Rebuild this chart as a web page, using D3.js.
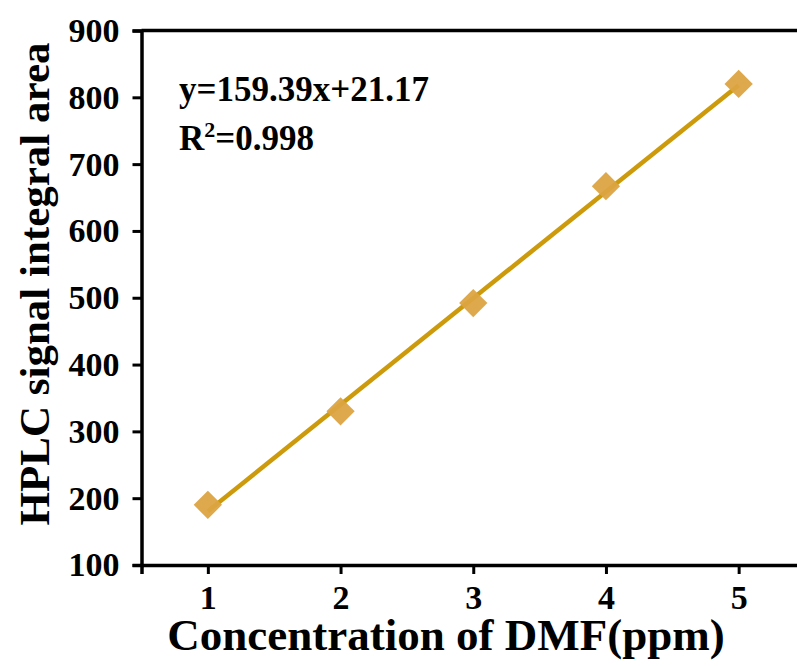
<!DOCTYPE html>
<html>
<head>
<meta charset="utf-8">
<script src="https://cdn.jsdelivr.net/npm/d3@7"></script>
<style>
  body { margin: 0; background: #fff; }
  svg { display: block; }
  text { font-family: "Liberation Serif", "Times New Roman", serif; font-weight: bold; fill: #000; }
</style>
</head>
<body>
<div id="chart"></div>
<script>
// Données
var concentrations = [1, 2, 3, 4, 5];
var aires = [190, 330, 492, 667, 820];
var pente = 159.39, ordonnee = 21.17;
var xTicks = [1, 2, 3, 4, 5];
var yTicks = [100, 200, 300, 400, 500, 600, 700, 800, 900];

var width = 797, height = 666;
var margin = { top: 30.5, right: -8, bottom: 101, left: 141.5 };

var svg = d3.select("#chart").append("svg")
    .attr("width", width)
    .attr("height", height);

var x = d3.scaleLinear()
    .domain([0.5, 5.5])
    .range([margin.left, width - margin.right]);
var y = d3.scaleLinear()
    .domain([100, 900])
    .range([height - margin.bottom, margin.top]);

// droite de régression
var fit = d3.line()
    .x(function (d) { return x(d); })
    .y(function (d) { return y(pente * d + ordonnee); });

svg.append("path")
    .datum([concentrations[0], concentrations[concentrations.length - 1]])
    .attr("d", fit)
    .attr("fill", "none")
    .attr("stroke", "#CC9A0A")
    .attr("stroke-width", 4.5);

// points en losange
var losange = d3.symbol().type(d3.symbolSquare).size(400);
svg.selectAll(".pt")
    .data(concentrations)
    .enter().append("path")
    .attr("class", "pt")
    .attr("d", losange)
    .attr("transform", function (d, i) { return "translate(" + x(d) + "," + y(aires[i]) + ") rotate(45)"; })
    .attr("fill", "#DCA442")
    .attr("fill-opacity", 0.95);

// axes
var xAxis = svg.append("g")
    .attr("transform", "translate(0," + y(100) + ")")
    .call(d3.axisBottom(x).tickValues(xTicks).tickSize(9).tickPadding(11).tickFormat(d3.format("d")));
var yAxis = svg.append("g")
    .attr("transform", "translate(" + x(0.5) + ",0)")
    .call(d3.axisLeft(y).tickValues(yTicks).tickSize(9).tickPadding(13));

[xAxis, yAxis].forEach(function (g) {
    g.attr("font-size", null).attr("font-family", null);
    g.select(".domain").attr("stroke", "#000").attr("stroke-width", 3.5);
    g.selectAll(".tick line").attr("stroke", "#000").attr("stroke-width", 3);
    g.selectAll(".tick text").style("font-size", "34px");
});

// cadre du haut
svg.append("line")
    .attr("x1", x(0.5)).attr("x2", x(5.5))
    .attr("y1", y(900)).attr("y2", y(900))
    .attr("stroke", "#000").attr("stroke-width", 3.5);
svg.append("line")
    .attr("x1", x(5.5)).attr("x2", x(5.5))
    .attr("y1", y(900)).attr("y2", y(100))
    .attr("stroke", "#000").attr("stroke-width", 3.5);

// titres des axes
svg.append("text")
    .attr("x", 446)
    .attr("y", 650)
    .attr("text-anchor", "middle")
    .style("font-size", "45px")
    .text("Concentration of DMF(ppm)");

svg.append("text")
    .attr("transform", "translate(49," + 284 + ") rotate(-90)")
    .attr("text-anchor", "middle")
    .style("font-size", "43px")
    .text("HPLC signal integral area");

// équation
svg.append("text")
    .attr("x", 179)
    .attr("y", 101)
    .style("font-size", "35px")
    .text("y=159.39x+21.17");

var r2 = svg.append("text")
    .attr("x", 179)
    .attr("y", 150)
    .style("font-size", "35px");
r2.append("tspan").text("R");
r2.append("tspan").attr("dy", -13).style("font-size", "22px").text("2");
r2.append("tspan").attr("dy", 13).text("=0.998");
</script>
</body>
</html>
